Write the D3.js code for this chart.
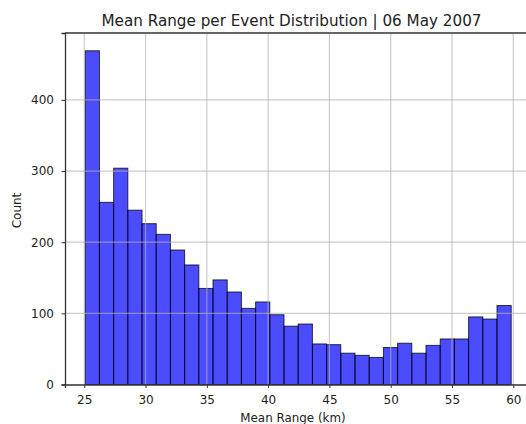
<!DOCTYPE html>
<html><head><meta charset="utf-8">
<script src="https://cdn.jsdelivr.net/npm/d3@7"></script>
<style>body{margin:0;background:#fff}svg{display:block}text{font-family:"DejaVu Sans",sans-serif}</style>
</head><body><svg id="c" width="526" height="424"></svg>
<script>
const counts = [469, 256, 304, 245, 226, 211, 189, 168, 135, 147, 130, 107, 116, 98, 82, 85, 57, 56, 44, 41, 38, 52, 58, 44, 55, 64, 64, 95, 92, 111];
const binRange = [25.08, 59.83];
const xTicks = [25, 30, 35, 40, 45, 50, 55, 60];
const yTicks = [0, 100, 200, 300, 400];
const title = "Mean Range per Event Distribution | 06 May 2007";
const xLabel = "Mean Range (km)";
const yLabel = "Count";

const svg = d3.select("#c");
const L = 65, R = 534, T = 33, B = 384.5;
const x = d3.scaleLinear().domain([23.43, 61.69]).range([L, R]);
const y = d3.scaleLinear().domain([0, 494]).range([B, T]);
const n = counts.length;
const w = (binRange[1] - binRange[0]) / n;
const bins = counts.map((c, i) => ({x0: binRange[0] + i * w, x1: binRange[0] + (i + 1) * w, c}));

svg.append("g").selectAll("rect").data(bins).join("rect")
  .attr("x", d => x(d.x0)).attr("width", d => x(d.x1) - x(d.x0))
  .attr("y", d => y(d.c)).attr("height", d => y(0) - y(d.c))
  .attr("fill", "rgba(0,0,255,0.7)").attr("stroke", "#000").attr("stroke-opacity", 0.75).attr("stroke-width", 1);

const grid = svg.append("g").attr("stroke", "#b0b0b0").attr("stroke-opacity", 0.65).attr("stroke-width", 1.2);
grid.selectAll(".gx").data(xTicks).join("line")
  .attr("x1", d => x(d)).attr("x2", d => x(d)).attr("y1", T).attr("y2", B);
grid.selectAll(".gy").data(yTicks.filter(d => d > 0)).join("line")
  .attr("x1", L).attr("x2", R).attr("y1", d => y(d)).attr("y2", d => y(d));

const xAxis = svg.append("g").attr("transform", `translate(0,${B})`)
  .call(d3.axisBottom(x).tickValues(xTicks).tickSize(3.5).tickPadding(7).tickFormat(d3.format("d")));
const yAxis = svg.append("g").attr("transform", `translate(${L},0)`)
  .call(d3.axisLeft(y).tickValues(yTicks).tickSize(3.5).tickPadding(7.5).tickFormat(d3.format("d")));
[xAxis, yAxis].forEach(g => {
  g.select(".domain").attr("stroke", "#333").attr("stroke-width", 1.3);
  g.selectAll(".tick line").attr("stroke", "#333");
  g.selectAll(".tick text").attr("fill", "#222").style("font-family", "DejaVu Sans").style("font-size", "12px");
});
svg.append("line").attr("x1", L).attr("x2", R).attr("y1", T).attr("y2", T).attr("stroke", "#333").attr("stroke-width", 1.3);

svg.append("text").attr("x", 291.5).attr("y", 26).attr("text-anchor", "middle")
  .style("font-size", "15.2px").attr("fill", "#222").text(title);
svg.append("text").attr("x", 293).attr("y", 421.5).attr("text-anchor", "middle")
  .style("font-size", "11.9px").attr("fill", "#222").text(xLabel);
svg.append("text").attr("transform", "translate(21,210.5) rotate(-90)").attr("text-anchor", "middle")
  .style("font-size", "12px").attr("fill", "#222").text(yLabel);
</script></body></html>
